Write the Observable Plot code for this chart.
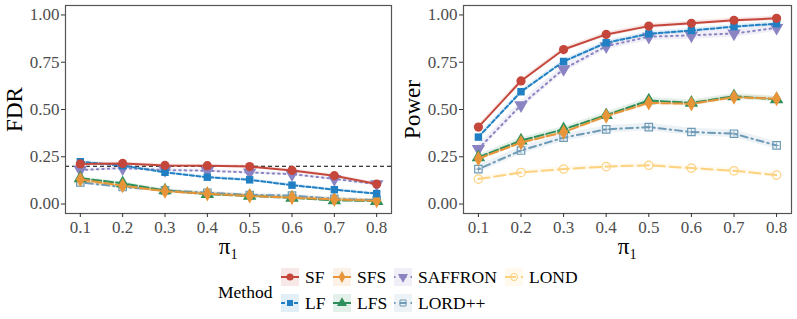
<!DOCTYPE html>
<html>
<head>
<meta charset="utf-8">
<script src="https://cdn.jsdelivr.net/npm/d3@7"></script>
<script src="https://cdn.jsdelivr.net/npm/@observablehq/plot@0.6"></script>
<style>
  body { margin: 0; background: #fff; font-family: "Liberation Serif", "Times New Roman", "DejaVu Serif", serif; }
  #wrap { width: 797px; height: 319px; position: relative; }
  #panels { display: flex; }
  svg { overflow: visible; }
  g[aria-label="x-axis tick label"] text, g[aria-label="y-axis tick label"] text { font-size: 17px; fill: #4d4d4d; }
  g[aria-label="x-axis label"] text { font-size: 23px; fill: #000; }
  g[aria-label="y-axis label"] text { font-size: 23px; fill: #000; }
  #legend { position: absolute; left: 0; top: 262px; width: 797px; height: 57px; font-size: 17.5px; color: #000; font-family: "Liberation Serif", "Times New Roman", serif; }
  .key { position: absolute; width: 18px; height: 18px; }
  .lab { position: absolute; line-height: 18px; }
</style>
</head>
<body>
<div id="wrap">
  <div id="panels"></div>
  <div id="legend"></div>
</div>
<script>
// ---- data ----
const pi1 = [0.1, 0.2, 0.3, 0.4, 0.5, 0.6, 0.7, 0.8];
const methods = ["SF", "LF", "SFS", "LFS", "SAFFRON", "LORD++", "LOND"];
const fdrSF      = [0.212, 0.215, 0.204, 0.203, 0.198, 0.178, 0.150, 0.106];
const fdrLF      = [0.224, 0.203, 0.168, 0.142, 0.128, 0.100, 0.076, 0.055];
const fdrSFS     = [0.130, 0.097, 0.068, 0.054, 0.043, 0.034, 0.024, 0.018];
const fdrLFS     = [0.136, 0.110, 0.072, 0.052, 0.043, 0.033, 0.020, 0.016];
const fdrSAFFRON = [0.180, 0.190, 0.180, 0.176, 0.167, 0.158, 0.133, 0.105];
const fdrLORDpp  = [0.114, 0.090, 0.072, 0.060, 0.048, 0.045, 0.028, 0.020];
const fdrLOND    = [0.122, 0.095, 0.068, 0.056, 0.044, 0.036, 0.026, 0.019];
const powSF      = [0.407, 0.651, 0.817, 0.897, 0.941, 0.956, 0.972, 0.982];
const powLF      = [0.354, 0.594, 0.754, 0.853, 0.900, 0.918, 0.938, 0.954];
const powSFS     = [0.240, 0.325, 0.380, 0.465, 0.535, 0.530, 0.565, 0.557];
const powLFS     = [0.247, 0.336, 0.395, 0.470, 0.548, 0.535, 0.570, 0.554];
const powSAFFRON = [0.292, 0.523, 0.714, 0.835, 0.885, 0.892, 0.902, 0.932];
const powLORDpp  = [0.185, 0.283, 0.351, 0.395, 0.407, 0.381, 0.372, 0.310];
const powLOND    = [0.132, 0.167, 0.185, 0.198, 0.205, 0.190, 0.176, 0.153];
// ribbon half-widths
const bandFDR   = [0.008, 0.008, 0.01, 0.008, 0.008, 0.008, 0.008];
const bandPower = [0.012, 0.012, 0.012, 0.015, 0.02, 0.02, 0.012];
const yTicks = [0, 0.25, 0.5, 0.75, 1];
const xTicks = pi1;
const fdrTarget = 0.2;

const colors = {SF: "#c5473b", LF: "#2080c3", SFS: "#e8953a", LFS: "#2f8f5b", SAFFRON: "#8a84c2", "LORD++": "#6e9ab6", LOND: "#fdd27f"};
const dashes = {SF: null, LF: "4,2.5", SFS: "9,3", LFS: "9,3", SAFFRON: "1.5,4", "LORD++": "1.5,4,7,4", LOND: "11,5"};
const symbols = {SF: "circle", LF: "square", SFS: "diamond", LFS: "triangle", SAFFRON: "triangle", "LORD++": "square", LOND: "circle"};
const filled = {SF: true, LF: true, SFS: true, LFS: true, SAFFRON: true, "LORD++": false, LOND: false};
const rot = {SF: 0, LF: 0, SFS: 0, LFS: 0, SAFFRON: 180, "LORD++": 0, LOND: 0};
const rSize = {SF: 4.6, LF: 4.2, SFS: 4.6, LFS: 5, SAFFRON: 5, "LORD++": 4.2, LOND: 4.2};

const fdrVals = [fdrSF, fdrLF, fdrSFS, fdrLFS, fdrSAFFRON, fdrLORDpp, fdrLOND];
const powVals = [powSF, powLF, powSFS, powLFS, powSAFFRON, powLORDpp, powLOND];

function rows(vals, bands) {
  const out = [];
  methods.forEach((m, i) => pi1.forEach((x, j) => out.push({m, x, y: vals[i][j], lo: vals[i][j] - bands[i], hi: vals[i][j] + bands[i]})));
  return out;
}

const drawOrder = ["LOND", "LORD++", "SAFFRON", "LFS", "SFS", "LF", "SF"];
const serif = '"Liberation Serif", "Times New Roman", "DejaVu Serif", serif';

function panel(vals, bands, label, width, ml, mr, hline) {
  const data = rows(vals, bands);
  const marks = [];
  for (const m of drawOrder) {
    const d = data.filter(r => r.m === m);
    marks.push(Plot.areaY(d, {x: "x", y1: "lo", y2: "hi", fill: colors[m], fillOpacity: 0.13}));
  }
  if (hline != null) marks.push(Plot.ruleY([hline], {stroke: "#000", strokeDasharray: "4,3", strokeWidth: 1.1}));
  for (const m of drawOrder) {
    const d = data.filter(r => r.m === m);
    marks.push(Plot.lineY(d, {x: "x", y: "y", stroke: colors[m], strokeWidth: 2, strokeDasharray: dashes[m]}));
    if (filled[m]) {
      marks.push(Plot.dot(d, {x: "x", y: "y", symbol: symbols[m], fill: colors[m], r: rSize[m], rotate: rot[m]}));
    } else {
      marks.push(Plot.dot(d, {x: "x", y: "y", symbol: symbols[m], fill: "#fff", fillOpacity: 0, stroke: colors[m], strokeWidth: 1.2, r: rSize[m]}));
      if (m === "LORD++") marks.push(Plot.dot(d, {x: "x", y: "y", symbol: "plus", stroke: colors[m], strokeWidth: 0.8, r: 2}));
    }
  }
  marks.push(Plot.frame({stroke: "#555", strokeWidth: 1.2}));
  marks.push(Plot.axisY({ticks: yTicks, tickFormat: d3.format(".2f"), tickSize: 4, tickPadding: 2, label, labelAnchor: "center", labelArrow: "none", labelOffset: 60}));
  marks.push(Plot.axisX({ticks: xTicks, tickFormat: d3.format(".1f"), tickSize: 4, tickPadding: 3, label: "π₁", labelAnchor: "center", labelArrow: "none", labelOffset: 40}));
  return Plot.plot({
    width, height: 258,
    marginLeft: ml, marginRight: mr, marginTop: 5, marginBottom: 45,
    x: {domain: [0.065, 0.835]},
    y: {domain: [-0.05, 1.05]},
    style: {background: "transparent", color: "#333", fontFamily: serif, overflow: "visible"},
    marks
  });
}

const panels = document.getElementById("panels");
panels.appendChild(panel(fdrVals, bandFDR, "FDR", 400, 65, 9, fdrTarget));
panels.appendChild(panel(powVals, bandPower, "Power", 397, 63, 6, null));

// ---- legend ----
const leg = document.getElementById("legend");
const title = document.createElement("div");
title.className = "lab"; title.textContent = "Method";
title.style.left = "218px"; title.style.top = "21px";
leg.appendChild(title);
const layout = [
  ["SF", 281, 6], ["LF", 281, 32],
  ["SFS", 333, 6], ["LFS", 333, 32],
  ["SAFFRON", 394, 6], ["LORD++", 394, 32],
  ["LOND", 505, 6]
];
const symPath = {
  circle: d3.symbol(d3.symbolCircle, 40)(),
  square: d3.symbol(d3.symbolSquare, 36)(),
  diamond: d3.symbol(d3.symbolDiamond, 40)(),
  triangle: d3.symbol(d3.symbolTriangle, 44)()
};
for (const [m, x, y] of layout) {
  const k = document.createElementNS("http://www.w3.org/2000/svg", "svg");
  k.setAttribute("class", "key");
  k.setAttribute("width", 18); k.setAttribute("height", 18);
  k.style.left = x + "px"; k.style.top = y + "px";
  const c = colors[m];
  let inner = `<rect x="0" y="0" width="18" height="18" fill="${c}" fill-opacity="0.13"/>`;
  inner += `<line x1="0" x2="18" y1="9" y2="9" stroke="${c}" stroke-width="2" ${dashes[m] ? `stroke-dasharray="${dashes[m]}"` : ""}/>`;
  const p = symPath[symbols[m]];
  const tr = `translate(9,9) rotate(${rot[m]})`;
  if (filled[m]) inner += `<path d="${p}" transform="${tr}" fill="${c}"/>`;
  else inner += `<path d="${p}" transform="${tr}" fill="none" stroke="${c}" stroke-width="1"/>`;
  k.innerHTML = inner;
  leg.appendChild(k);
  const l = document.createElement("div");
  l.className = "lab"; l.textContent = m;
  l.style.left = (x + 24) + "px"; l.style.top = y + "px";
  leg.appendChild(l);
}
</script>
</body>
</html>
